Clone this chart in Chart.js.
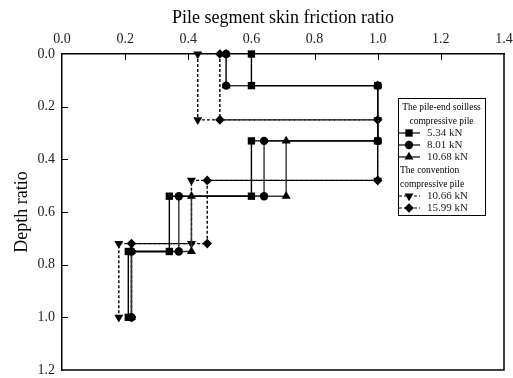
<!DOCTYPE html>
<html>
<head>
<meta charset="utf-8">
<script src="https://cdn.jsdelivr.net/npm/chart.js@4.4.1/dist/chart.umd.min.js"></script>
<style>
  html, body { margin: 0; padding: 0; background: #fff; overflow: hidden; }
</style>
</head>
<body>
<canvas id="frictionChart" width="513" height="378"></canvas>
<script>
// Pile segment skin friction ratio (x) vs depth ratio (y), stepped profiles
const xTicks = [0.0, 0.2, 0.4, 0.6, 0.8, 1.0, 1.2, 1.4];
const yTicks = [0.0, 0.2, 0.4, 0.6, 0.8, 1.0, 1.2];

// pile-end soilless compressive pile
const soillessDepth = [0, 0.12, 0.12, 0.33, 0.33, 0.54, 0.54, 0.75, 0.75, 1.0];
const soilless534 = [0.60, 0.60, 1.00, 1.00, 0.60, 0.60, 0.34, 0.34, 0.21, 0.21];
const soilless801 = [0.52, 0.52, 1.00, 1.00, 0.64, 0.64, 0.37, 0.37, 0.22, 0.22];
const soilless1068 = [0.52, 0.52, 1.00, 1.00, 0.71, 0.71, 0.41, 0.41, 0.22, 0.22];

// convention compressive pile
const conventionDepth = [0, 0.25, 0.25, 0.48, 0.48, 0.72, 0.72, 1.0];
const convention1066 = [0.43, 0.43, 1.00, 1.00, 0.41, 0.41, 0.18, 0.18];
const convention1599 = [0.50, 0.50, 1.00, 1.00, 0.46, 0.46, 0.22, 0.22];

const seriesLabels = ['5.34 kN', '8.01 kN', '10.68 kN', '10.66 kN', '15.99 kN'];

const serif = "'Liberation Serif', 'Times New Roman', serif";

function toPoints(xs, ys) {
  return xs.map((x, i) => ({ x: x, y: ys[i] }));
}

function series(label, xs, ys, style, radius, rotation, color, dashed) {
  return {
    label: label,
    data: toPoints(xs, ys),
    showLine: true,
    borderColor: color,
    borderWidth: 1.4,
    borderDash: dashed ? [3, 2] : [],
    pointStyle: style,
    pointRotation: rotation,
    pointRadius: radius,
    pointHoverRadius: radius,
    pointBackgroundColor: '#000',
    pointBorderColor: '#000',
    pointBorderWidth: 0,
    clip: false
  };
}

const datasets = [
  series(seriesLabels[0], soilless534, soillessDepth, 'rect', 5.2, 0, '#000', false),
  series(seriesLabels[1], soilless801, soillessDepth, 'circle', 4.2, 0, '#333', false),
  series(seriesLabels[2], soilless1068, soillessDepth, 'triangle', 5.2, 0, '#333', false),
  series(seriesLabels[3], convention1066, conventionDepth, 'triangle', 5.2, 180, '#000', true),
  series(seriesLabels[4], convention1599, conventionDepth, 'rectRot', 4.8, 0, '#000', true)
];

// closes the frame and draws the small inward tick marks
const framePlugin = {
  id: 'frame',
  beforeDatasetsDraw(chart) {
    const ctx = chart.ctx;
    const a = chart.chartArea;
    const xs = chart.scales.x;
    const ys = chart.scales.y;
    ctx.save();
    ctx.strokeStyle = '#000';
    ctx.lineWidth = 1.5;
    ctx.beginPath();
    ctx.moveTo(a.left, a.bottom);
    ctx.lineTo(a.right, a.bottom);
    ctx.lineTo(a.right, a.top);
    ctx.stroke();
    ctx.lineWidth = 1;
    ctx.beginPath();
    xTicks.slice(1, -1).forEach(v => {
      const px = Math.round(xs.getPixelForValue(v)) + 0.5;
      ctx.moveTo(px, a.top);
      ctx.lineTo(px, a.top + 6);
    });
    yTicks.slice(1, -1).forEach(v => {
      const py = Math.round(ys.getPixelForValue(v)) + 0.5;
      ctx.moveTo(a.left, py);
      ctx.lineTo(a.left + 6, py);
    });
    ctx.stroke();
    ctx.restore();
  }
};

// grouped legend with two header lines per pile type
const legendRows = [
  { text: 'The pile-end soilless', center: true },
  { text: 'compressive pile', center: true },
  { ds: 0 }, { ds: 1 }, { ds: 2 },
  { text: 'The convention' },
  { text: 'compressive pile' },
  { ds: 3 }, { ds: 4 }
];
const legendRowOffsets = [9, 23, 35, 47, 59, 72, 86, 98, 110];

const groupLegendPlugin = {
  id: 'groupLegend',
  afterDraw(chart) {
    const ctx = chart.ctx;
    const bx = 398, by = 98, bw = 87, bh = 117;
    ctx.save();
    ctx.fillStyle = '#fff';
    ctx.fillRect(bx, by, bw, bh);
    ctx.strokeStyle = '#000';
    ctx.lineWidth = 1;
    ctx.strokeRect(bx + 0.5, by + 0.5, bw, bh);
    ctx.textBaseline = 'middle';
    legendRows.forEach((row, i) => {
      const y = by + legendRowOffsets[i];
      if (row.ds === undefined) {
        ctx.font = '9.5px ' + serif;
        ctx.fillStyle = '#000';
        ctx.textAlign = row.center ? 'center' : 'left';
        ctx.fillText(row.text, row.center ? bx + bw / 2 : bx + 2, y);
        return;
      }
      const ds = chart.data.datasets[row.ds];
      ctx.strokeStyle = '#000';
      ctx.lineWidth = 1.2;
      ctx.setLineDash(ds.borderDash);
      ctx.beginPath();
      ctx.moveTo(bx + 1, y);
      ctx.lineTo(bx + 22, y);
      ctx.stroke();
      ctx.setLineDash([]);
      ctx.fillStyle = '#000';
      Chart.helpers.drawPoint(ctx, {
        pointStyle: ds.pointStyle,
        rotation: ds.pointRotation,
        radius: ds.pointRadius,
        borderWidth: 0
      }, bx + 11, y);
      ctx.font = '11px ' + serif;
      ctx.fillStyle = '#222';
      ctx.textAlign = 'left';
      ctx.fillText(ds.label, bx + 29, y);
    });
    ctx.restore();
  }
};

new Chart(document.getElementById('frictionChart'), {
  type: 'scatter',
  data: { datasets: datasets },
  options: {
    responsive: false,
    animation: false,
    devicePixelRatio: 1,
    layout: { padding: { left: 0, top: 0, right: 9, bottom: 8 } },
    plugins: {
      legend: { display: false },
      tooltip: { enabled: false }
    },
    scales: {
      x: {
        type: 'linear',
        position: 'top',
        min: 0,
        max: 1.4,
        afterBuildTicks: s => { s.ticks = xTicks.map(v => ({ value: v })); },
        ticks: {
          padding: 6,
          color: '#222',
          font: { family: serif, size: 14 },
          callback: v => Number(v).toFixed(1)
        },
        grid: { display: false, drawTicks: false },
        border: { display: true, color: '#000', width: 1.5 },
        title: {
          display: true,
          text: 'Pile segment skin friction ratio',
          color: '#000',
          font: { family: serif, size: 18 },
          padding: { top: 7, bottom: 0 }
        },
        afterFit: s => { s.paddingLeft = 0; s.paddingRight = 0; s.height = 54; }
      },
      y: {
        type: 'linear',
        reverse: true,
        min: 0,
        max: 1.2,
        afterBuildTicks: s => { s.ticks = yTicks.map(v => ({ value: v })); },
        ticks: {
          padding: 7,
          color: '#222',
          font: { family: serif, size: 14 },
          callback: v => Number(v).toFixed(1)
        },
        grid: { display: false, drawTicks: false },
        border: { display: true, color: '#000', width: 1.5 },
        title: {
          display: true,
          text: 'Depth ratio',
          color: '#000',
          font: { family: serif, size: 18 },
          padding: { top: 11, bottom: 0 }
        },
        afterFit: s => { s.paddingTop = 0; s.paddingBottom = 0; s.width = 62; }
      }
    }
  },
  plugins: [framePlugin, groupLegendPlugin]
});
</script>
</body>
</html>
